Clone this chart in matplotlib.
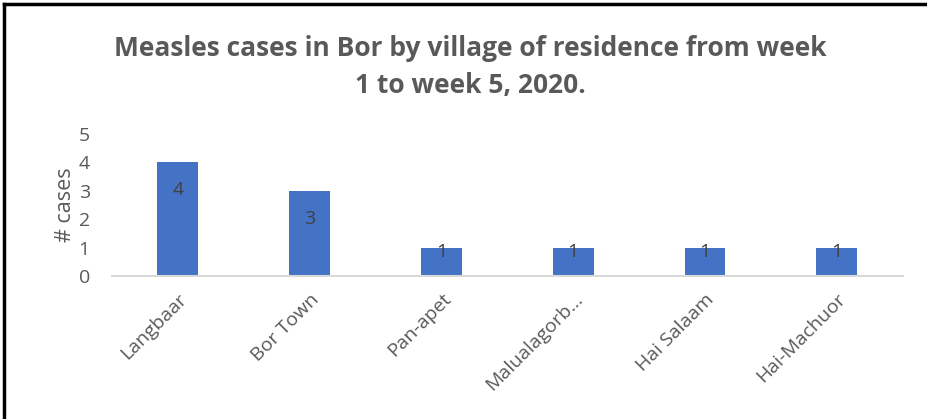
import matplotlib.pyplot as plt
from matplotlib.lines import Line2D
from matplotlib import font_manager

villages = ["Langbaar", "Bor Town", "Pan-apet", "Malualagorb...", "Hai Salaam", "Hai-Machuor"]
cases = [4, 3, 1, 1, 1, 1]
yticks = [0, 1, 2, 3, 4, 5]

names = {f.name for f in font_manager.fontManager.ttflist}
fam = "Liberation Sans Narrow" if "Liberation Sans Narrow" in names else "Open Sans"
plt.rcParams['font.family'] = [fam, 'DejaVu Sans']
grey = "#595959"

fig = plt.figure(figsize=(9.28, 4.19), dpi=100)
ax = fig.add_axes([0.1207, 0.341, 0.852, 0.339])

x = range(len(villages))
ax.bar(x, cases, width=0.31, color="#4472c4")
for i, v in zip(x, cases):
    ax.text(i, max(v - 0.98, 0.85), str(v), ha="center", va="center", fontsize=14, color="#404040")

ax.set_xlim(-0.5, len(villages) - 0.5)
ax.set_ylim(0, 5)
ax.set_yticks(yticks)
ax.set_xticks(list(x))
ax.set_xticklabels(villages, rotation=45, ha="right", rotation_mode="anchor", fontsize=14, color=grey)
ax.tick_params(axis="y", length=0, labelsize=14, labelcolor=grey, pad=16)
ax.tick_params(axis="x", length=0, pad=10)
for s in ["top", "right", "left"]:
    ax.spines[s].set_visible(False)
ax.spines["bottom"].set_color("#d9d9d9")
ax.spines["bottom"].set_linewidth(1.5)
ax.set_ylabel("# cases", fontsize=15.5, color=grey, labelpad=2)

fig.text(0.507, 0.84, "Measles cases in Bor by village of residence from week\n1 to week 5, 2020.",
         ha="center", va="center", fontsize=19, fontweight="bold", color=grey, linespacing=1.45)

fig.add_artist(Line2D([0.004, 1.0], [0.991, 0.991], color="black", lw=2.5))
fig.add_artist(Line2D([0.004, 0.004], [0.0, 0.991], color="black", lw=2.5))

fig.savefig("out.png", dpi=100)
